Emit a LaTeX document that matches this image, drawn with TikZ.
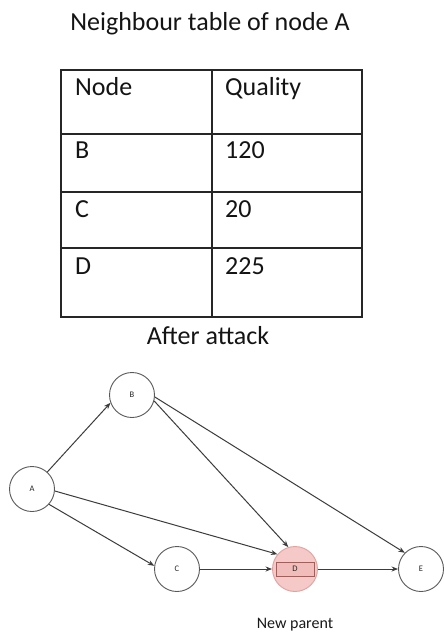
\documentclass[tikz,border=0pt]{standalone}
\usepackage{fontspec}
\setmainfont{Carlito}
\setsansfont{Carlito}
\usetikzlibrary{arrows.meta}
\definecolor{pinkfill}{HTML}{F4C9C7}
\definecolor{pinkline}{HTML}{DFA3A0}
\definecolor{rectfill}{HTML}{F1BDBA}
\definecolor{rectline}{HTML}{A05F5B}
\definecolor{edgegray}{HTML}{3C3C3C}
\tikzset{
  bigtext/.style={font=\fontsize{26}{30}\selectfont, text=black!92, inner sep=0pt},
  celltext/.style={bigtext, anchor=base west},
  tableline/.style={line width=1.8pt, draw=black!85},
  vertex/.style={circle, draw=edgegray!85, line width=0.9pt, minimum size=45pt, inner sep=0pt, fill=white,
    font=\fontsize{8.5}{9}\selectfont\sffamily, text=black!85},
  link/.style={draw=edgegray, line width=1pt, -{Stealth[length=6.5pt,width=5pt]}},
}
\begin{document}
\begin{tikzpicture}[x=1pt,y=-1pt]
\useasboundingbox (0,0) rectangle (444,632);
\fill[white] (0,0) rectangle (444,632);

% title
\node[bigtext] (title) at (210,24) {Neighbour table of node A};

% table frame
\draw[tableline] (61,70) rectangle (362,317);
\draw[tableline] (212,70) -- (212,317);
\draw[tableline] (61,134) -- (362,134);
\draw[tableline] (61,192) -- (362,192);
\draw[tableline] (61,248) -- (362,248);

% table contents
\node[celltext] (h1) at (75,95) {Node};
\node[celltext] (h2) at (225,95) {Quality};
\node[celltext] (r1a) at (75,158) {B};
\node[celltext] (r1b) at (225,158) {120};
\node[celltext] (r2a) at (75,217) {C};
\node[celltext] (r2b) at (225,217) {20};
\node[celltext] (r3a) at (75,274) {D};
\node[celltext] (r3b) at (225,274) {225};

\node[bigtext] (after) at (208,336) {After attack};

% graph
\node[vertex] (A) at (32,489) {A};
\node[vertex] (B) at (132,395) {B};
\node[vertex] (C) at (177,569) {C};
\node[vertex, fill=pinkfill, draw=pinkline] (D) at (295,569) {};
\node[draw=rectline, fill=rectfill, line width=0.9pt, minimum width=38pt, minimum height=14pt, inner sep=0pt,
  font=\fontsize{8.5}{9}\selectfont\sffamily, text=black!85] (Dbox) at (D.center) {D};
\node[vertex] (E) at (421,569) {E};

\draw[link] (A.48) -- (B.200);
\draw[link] (A.-5) -- (D.140);
\draw[link] (A.-42) -- (C.172);
\draw[link] (B.-15) -- (D.107);
\draw[link] (B.-5) -- (E.135);
\draw[link] (C.east) -- (D.west);
\draw[link] (D.east) -- (E.west);

\node[font=\fontsize{16}{19}\selectfont, text=black!90, inner sep=0pt] (np) at (295,625) {New parent};
\end{tikzpicture}
\end{document}
